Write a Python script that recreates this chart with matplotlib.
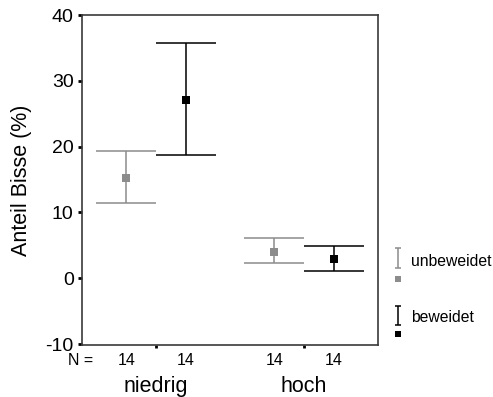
import matplotlib
matplotlib.use("Agg")
import matplotlib.pyplot as plt
import numpy as np

plt.rcParams['font.family'] = ['Liberation Sans', 'DejaVu Sans']

categories = ["niedrig", "hoch"]
series_names = ["unbeweidet", "beweidet"]
means = {"unbeweidet": [15.3, 4.05], "beweidet": [27.05, 2.9]}
upper = {"unbeweidet": [19.4, 6.1], "beweidet": [35.7, 4.9]}
lower = {"unbeweidet": [11.5, 2.3], "beweidet": [18.8, 1.1]}
n_values = {"unbeweidet": [14, 14], "beweidet": [14, 14]}
yticks = [-10, 0, 10, 20, 30, 40]

colors = {"unbeweidet": "#8c8c8c", "beweidet": "#000000"}
offsets = {"unbeweidet": -0.2, "beweidet": 0.2}

fig = plt.figure(figsize=(4.93, 3.97), dpi=100)
ax = fig.add_axes([82/493, 1-345/397, 296/493, 330/397])

x = np.arange(len(categories))
for s in series_names:
    m = np.array(means[s]); u = np.array(upper[s]); l = np.array(lower[s])
    ax.errorbar(x + offsets[s], m, yerr=[m - l, u - m], fmt='none',
                ecolor=colors[s], elinewidth=1.1, capsize=21.8, capthick=1.1)
    ax.plot(x + offsets[s], m, 's', color=colors[s], markersize=5.5, markeredgewidth=0)

ax.set_xlim(-0.5, 1.5)
ax.set_ylim(-10.15, 40)
ax.set_yticks(yticks)
ax.set_yticklabels([str(t) for t in yticks], fontsize=14)
ax.set_xticks(x)
ax.set_xticklabels([])
ax.tick_params(axis='y', direction='out', length=3, width=2, pad=3)
ax.tick_params(axis='x', direction='out', length=2, width=2)
for sp in ax.spines.values():
    sp.set_color('#3a3a3a')
    sp.set_linewidth(1.2)
ax.set_ylabel("Anteil Bisse (%)", fontsize=15.5, labelpad=10)

# N row and category labels
ax.text(-0.51, -0.025, "N =", transform=ax.get_xaxis_transform(), ha='center', va='top', fontsize=11.5)
for s in series_names:
    for xi, nv in zip(x, n_values[s]):
        ax.text(xi + offsets[s], -0.025, str(nv), transform=ax.get_xaxis_transform(),
                ha='center', va='top', fontsize=11.5)
for xi, c in zip(x, categories):
    ax.text(xi, -0.093, c, transform=ax.get_xaxis_transform(), ha='center', va='top', fontsize=15.5)

# legend drawn in a small side axes
lax = fig.add_axes([385/493, 1-345/397, 108/493, 110/397])
lax.set_xlim(0, 108); lax.set_ylim(110, 0)
lax.axis('off')
leg_y = {"unbeweidet": (13, 33, 44, 26), "beweidet": (71, 90, 99, 82)}
for s in series_names:
    top, bot, mk, ty = leg_y[s]
    lax.errorbar([12.5], [(top + bot) / 2], yerr=[[(bot - top) / 2], [(bot - top) / 2]],
                 fmt='none', ecolor=colors[s], elinewidth=1.1, capsize=2.5, capthick=1.1)
    lax.plot([12.5], [mk], 's', color=colors[s], markersize=5, markeredgewidth=0)
    lax.text(26, ty, s, ha='left', va='center', fontsize=11.3)

fig.savefig("out.png", dpi=100)
